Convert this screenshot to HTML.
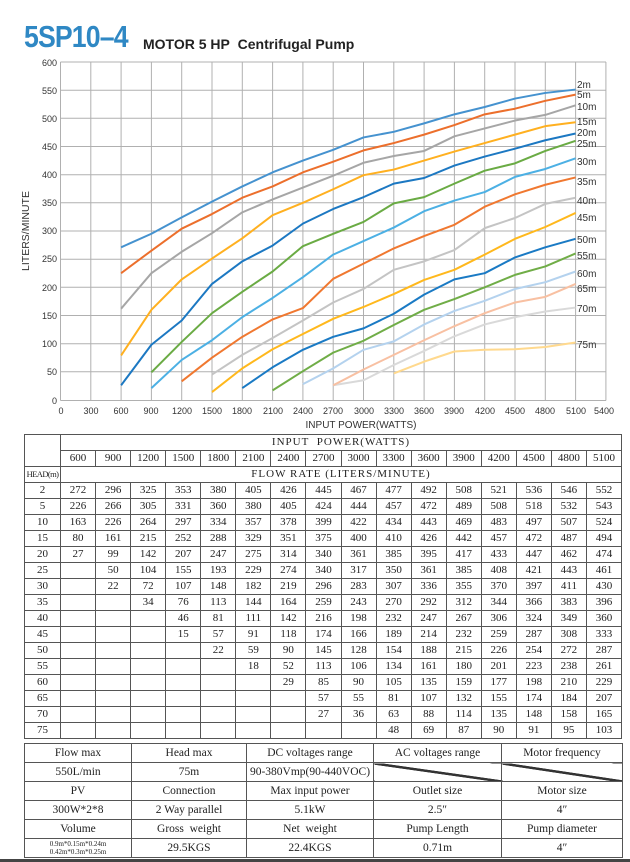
<!DOCTYPE html>
<html><head><meta charset="utf-8"><style>
body{margin:0;background:#fff;width:630px;height:862px;overflow:hidden;position:relative;font-family:"Liberation Sans",sans-serif}
.t{position:absolute;border-collapse:collapse;table-layout:fixed;font-family:"Liberation Serif",serif;font-size:11px;color:#222}
.t td{border:1px solid #555;text-align:center;padding:0;overflow:hidden;white-space:nowrap}
#t1{left:24px;top:434px;width:598px}
#t1 td{height:15px;line-height:15px}
#t2{left:24px;top:743px;width:599px;font-size:11.5px}
#t2 td{height:18px;line-height:18px}
</style></head><body>
<div style="position:absolute;left:24px;top:20px;font-size:31px;line-height:34px;font-weight:bold;color:#2f88c4;letter-spacing:-1px;transform:scaleX(0.86);transform-origin:left">5SP10–4</div>
<div style="position:absolute;left:143px;top:36px;font-size:14px;font-weight:bold;color:#222">MOTOR 5 HP&nbsp; Centrifugal Pump</div>
<svg width="630" height="432" style="position:absolute;left:0;top:0" font-family="Liberation Sans,sans-serif">
<g stroke="#b0b0b0" stroke-width="1" fill="none">
<path d="M60.5 62V400.5M90.8 62V400.5M121.1 62V400.5M151.4 62V400.5M181.7 62V400.5M212 62V400.5M242.3 62V400.5M272.6 62V400.5M302.9 62V400.5M333.2 62V400.5M363.5 62V400.5M393.8 62V400.5M424.1 62V400.5M454.4 62V400.5M484.7 62V400.5M515 62V400.5M545.3 62V400.5M575.6 62V400.5M605.9 62V400.5"/>
<path d="M60.5 62H606M60.5 90.2H606M60.5 118.3H606M60.5 146.5H606M60.5 174.7H606M60.5 202.8H606M60.5 231H606M60.5 259.2H606M60.5 287.3H606M60.5 315.5H606M60.5 343.7H606M60.5 371.8H606M60.5 400.5H606"/>
</g>
<g font-size="9" fill="#333" text-anchor="end">
<text x="57" y="66">600</text><text x="57" y="94">550</text><text x="57" y="122">500</text><text x="57" y="150">450</text><text x="57" y="178">400</text><text x="57" y="206">350</text><text x="57" y="234">300</text><text x="57" y="262">250</text><text x="57" y="291">200</text><text x="57" y="319">150</text><text x="57" y="347">100</text><text x="57" y="375">50</text><text x="57" y="404">0</text>
</g>
<g font-size="9" fill="#333" text-anchor="middle">
<text x="61" y="414">0</text><text x="91" y="414">300</text><text x="121" y="414">600</text><text x="151" y="414">900</text><text x="182" y="414">1200</text><text x="212" y="414">1500</text><text x="242" y="414">1800</text><text x="273" y="414">2100</text><text x="303" y="414">2400</text><text x="333" y="414">2700</text><text x="364" y="414">3000</text><text x="394" y="414">3300</text><text x="424" y="414">3600</text><text x="454" y="414">3900</text><text x="485" y="414">4200</text><text x="515" y="414">4500</text><text x="545" y="414">4800</text><text x="576" y="414">5100</text><text x="604" y="414">5400</text>
</g>
<text x="361" y="428" font-size="10" text-anchor="middle" fill="#333">INPUT POWER(WATTS)</text>
<text transform="translate(29,231) rotate(-90)" font-size="10.5" text-anchor="middle" fill="#333">LITERS/MINUTE</text>
<g transform="translate(60.5,400.5) scale(0.101,-0.5633)" fill="none" stroke-width="2" stroke-linejoin="round">
<polyline vector-effect="non-scaling-stroke" stroke="#ffd98e" points="3300,48 3600,69 3900,87 4200,90 4500,91 4800,95 5100,103"/>
<polyline vector-effect="non-scaling-stroke" stroke="#d9d9d9" points="2700,27 3000,36 3300,63 3600,88 3900,114 4200,135 4500,148 4800,158 5100,165"/>
<polyline vector-effect="non-scaling-stroke" stroke="#f8c0a2" points="2700,27 3000,55 3300,81 3600,107 3900,132 4200,155 4500,174 4800,184 5100,207"/>
<polyline vector-effect="non-scaling-stroke" stroke="#b4d2ee" points="2400,29 2700,57 3000,90 3300,105 3600,135 3900,159 4200,177 4500,198 4800,210 5100,229"/>
<polyline vector-effect="non-scaling-stroke" stroke="#70ad47" points="2100,18 2400,52 2700,85 3000,106 3300,134 3600,161 3900,180 4200,201 4500,223 4800,238 5100,261"/>
<polyline vector-effect="non-scaling-stroke" stroke="#1a7ac4" points="1800,22 2100,59 2400,90 2700,113 3000,128 3300,154 3600,188 3900,215 4200,226 4500,254 4800,272 5100,287"/>
<polyline vector-effect="non-scaling-stroke" stroke="#ffb81c" points="1500,15 1800,57 2100,91 2400,118 2700,145 3000,166 3300,189 3600,214 3900,232 4200,259 4500,287 4800,308 5100,333"/>
<polyline vector-effect="non-scaling-stroke" stroke="#c4c4c4" points="1500,46 1800,81 2100,111 2400,142 2700,174 3000,198 3300,232 3600,247 3900,267 4200,306 4500,324 4800,349 5100,360"/>
<polyline vector-effect="non-scaling-stroke" stroke="#f07830" points="1200,34 1500,76 1800,113 2100,144 2400,164 2700,216 3000,243 3300,270 3600,292 3900,312 4200,344 4500,366 4800,383 5100,396"/>
<polyline vector-effect="non-scaling-stroke" stroke="#4cb0e4" points="900,22 1200,72 1500,107 1800,148 2100,182 2400,219 2700,259 3000,283 3300,307 3600,336 3900,355 4200,370 4500,397 4800,411 5100,430"/>
<polyline vector-effect="non-scaling-stroke" stroke="#6aab44" points="900,50 1200,104 1500,155 1800,193 2100,229 2400,274 2700,296 3000,317 3300,350 3600,361 3900,385 4200,408 4500,421 4800,443 5100,461"/>
<polyline vector-effect="non-scaling-stroke" stroke="#1c78c2" points="600,27 900,99 1200,142 1500,207 1800,247 2100,275 2400,314 2700,340 3000,361 3300,385 3600,395 3900,417 4200,433 4500,447 4800,462 5100,474"/>
<polyline vector-effect="non-scaling-stroke" stroke="#ffb020" points="600,80 900,161 1200,215 1500,252 1800,288 2100,329 2400,351 2700,375 3000,400 3300,410 3600,426 3900,442 4200,457 4500,472 4800,487 5100,494"/>
<polyline vector-effect="non-scaling-stroke" stroke="#a6a6a6" points="600,163 900,226 1200,264 1500,297 1800,334 2100,357 2400,378 2700,399 3000,422 3300,434 3600,443 3900,469 4200,483 4500,497 4800,507 5100,524"/>
<polyline vector-effect="non-scaling-stroke" stroke="#ec6f2c" points="600,226 900,266 1200,305 1500,331 1800,360 2100,380 2400,405 2700,424 3000,444 3300,457 3600,472 3900,489 4200,508 4500,518 4800,532 5100,543"/>
<polyline vector-effect="non-scaling-stroke" stroke="#4592cf" points="600,272 900,296 1200,325 1500,353 1800,380 2100,405 2400,426 2700,445 3000,467 3300,477 3600,492 3900,508 4200,521 4500,536 4800,546 5100,552"/>
</g>
<g font-size="10" fill="#333">
<text x="577" y="88">2m</text><text x="577" y="98">5m</text><text x="577" y="110">10m</text><text x="577" y="125">15m</text><text x="577" y="136">20m</text><text x="577" y="147">25m</text><text x="577" y="165">30m</text><text x="577" y="185">35m</text><text x="577" y="204">40m</text><text x="577" y="221">45m</text><text x="577" y="243">50m</text><text x="577" y="259">55m</text><text x="577" y="277">60m</text><text x="577" y="292">65m</text><text x="577" y="312">70m</text><text x="577" y="348">75m</text>
</g>
</svg>
<table class="t" id="t1">
<colgroup><col style="width:36px"><col span="16"></colgroup>
<tr><td rowspan="2"></td><td colspan="16" style="letter-spacing:1px">INPUT&nbsp; POWER(WATTS)</td></tr>
<tr><td>600</td><td>900</td><td>1200</td><td>1500</td><td>1800</td><td>2100</td><td>2400</td><td>2700</td><td>3000</td><td>3300</td><td>3600</td><td>3900</td><td>4200</td><td>4500</td><td>4800</td><td>5100</td></tr>
<tr><td style="font-size:8.5px;letter-spacing:-0.6px">HEAD(m)</td><td colspan="16" style="letter-spacing:1px">FLOW RATE (LITERS/MINUTE)</td></tr>
<tr><td>2</td><td>272</td><td>296</td><td>325</td><td>353</td><td>380</td><td>405</td><td>426</td><td>445</td><td>467</td><td>477</td><td>492</td><td>508</td><td>521</td><td>536</td><td>546</td><td>552</td></tr>
<tr><td>5</td><td>226</td><td>266</td><td>305</td><td>331</td><td>360</td><td>380</td><td>405</td><td>424</td><td>444</td><td>457</td><td>472</td><td>489</td><td>508</td><td>518</td><td>532</td><td>543</td></tr>
<tr><td>10</td><td>163</td><td>226</td><td>264</td><td>297</td><td>334</td><td>357</td><td>378</td><td>399</td><td>422</td><td>434</td><td>443</td><td>469</td><td>483</td><td>497</td><td>507</td><td>524</td></tr>
<tr><td>15</td><td>80</td><td>161</td><td>215</td><td>252</td><td>288</td><td>329</td><td>351</td><td>375</td><td>400</td><td>410</td><td>426</td><td>442</td><td>457</td><td>472</td><td>487</td><td>494</td></tr>
<tr><td>20</td><td>27</td><td>99</td><td>142</td><td>207</td><td>247</td><td>275</td><td>314</td><td>340</td><td>361</td><td>385</td><td>395</td><td>417</td><td>433</td><td>447</td><td>462</td><td>474</td></tr>
<tr><td>25</td><td></td><td>50</td><td>104</td><td>155</td><td>193</td><td>229</td><td>274</td><td>340</td><td>317</td><td>350</td><td>361</td><td>385</td><td>408</td><td>421</td><td>443</td><td>461</td></tr>
<tr><td>30</td><td></td><td>22</td><td>72</td><td>107</td><td>148</td><td>182</td><td>219</td><td>296</td><td>283</td><td>307</td><td>336</td><td>355</td><td>370</td><td>397</td><td>411</td><td>430</td></tr>
<tr><td>35</td><td></td><td></td><td>34</td><td>76</td><td>113</td><td>144</td><td>164</td><td>259</td><td>243</td><td>270</td><td>292</td><td>312</td><td>344</td><td>366</td><td>383</td><td>396</td></tr>
<tr><td>40</td><td></td><td></td><td></td><td>46</td><td>81</td><td>111</td><td>142</td><td>216</td><td>198</td><td>232</td><td>247</td><td>267</td><td>306</td><td>324</td><td>349</td><td>360</td></tr>
<tr><td>45</td><td></td><td></td><td></td><td>15</td><td>57</td><td>91</td><td>118</td><td>174</td><td>166</td><td>189</td><td>214</td><td>232</td><td>259</td><td>287</td><td>308</td><td>333</td></tr>
<tr><td>50</td><td></td><td></td><td></td><td></td><td>22</td><td>59</td><td>90</td><td>145</td><td>128</td><td>154</td><td>188</td><td>215</td><td>226</td><td>254</td><td>272</td><td>287</td></tr>
<tr><td>55</td><td></td><td></td><td></td><td></td><td></td><td>18</td><td>52</td><td>113</td><td>106</td><td>134</td><td>161</td><td>180</td><td>201</td><td>223</td><td>238</td><td>261</td></tr>
<tr><td>60</td><td></td><td></td><td></td><td></td><td></td><td></td><td>29</td><td>85</td><td>90</td><td>105</td><td>135</td><td>159</td><td>177</td><td>198</td><td>210</td><td>229</td></tr>
<tr><td>65</td><td></td><td></td><td></td><td></td><td></td><td></td><td></td><td>57</td><td>55</td><td>81</td><td>107</td><td>132</td><td>155</td><td>174</td><td>184</td><td>207</td></tr>
<tr><td>70</td><td></td><td></td><td></td><td></td><td></td><td></td><td></td><td>27</td><td>36</td><td>63</td><td>88</td><td>114</td><td>135</td><td>148</td><td>158</td><td>165</td></tr>
<tr><td>75</td><td></td><td></td><td></td><td></td><td></td><td></td><td></td><td></td><td></td><td>48</td><td>69</td><td>87</td><td>90</td><td>91</td><td>95</td><td>103</td></tr>
</table>
<table class="t" id="t2">
<colgroup><col style="width:107px"><col style="width:115px"><col style="width:127px"><col style="width:128px"><col></colgroup>
<tr><td>Flow max</td><td>Head max</td><td>DC voltages range</td><td>AC voltages range</td><td>Motor frequency</td></tr>
<tr><td>550L/min</td><td>75m</td><td>90-380Vmp(90-440VOC)</td><td style="background:linear-gradient(to top right,transparent 46%,#333 47%,#333 53%,transparent 54%)"></td><td style="background:linear-gradient(to top right,transparent 46%,#333 47%,#333 53%,transparent 54%)"></td></tr>
<tr><td>PV</td><td>Connection</td><td>Max input power</td><td>Outlet size</td><td>Motor size</td></tr>
<tr><td>300W*2*8</td><td>2 Way parallel</td><td>5.1kW</td><td>2.5″</td><td>4″</td></tr>
<tr><td>Volume</td><td>Gross&nbsp; weight</td><td>Net&nbsp; weight</td><td>Pump Length</td><td>Pump diameter</td></tr>
<tr><td style="font-size:7px;line-height:8.5px">0.9m*0.15m*0.24m<br>0.42m*0.3m*0.25m</td><td>29.5KGS</td><td>22.4KGS</td><td>0.71m</td><td>4″</td></tr>
</table>
<div style="position:absolute;left:0;top:859px;width:630px;height:3px;background:#444"></div>
</body></html>
